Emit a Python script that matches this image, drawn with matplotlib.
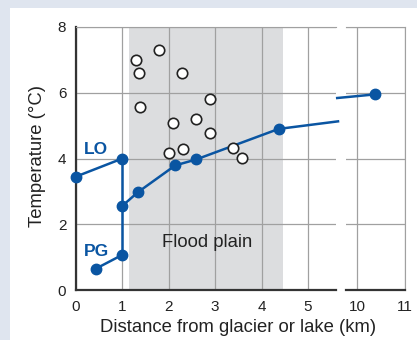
import matplotlib.pyplot as plt
from matplotlib.patches import Rectangle

plt.rcParams["font.family"] = ["Liberation Sans", "DejaVu Sans"]

blue = "#0a55a2"

# lake outlet (LO) and proglacial stream (PG)
lo_x = [0.0, 1.0]
lo_y = [3.45, 4.0]
pg_x = [0.43, 1.0]
pg_y = [0.65, 1.07]
# main channel downstream of confluence
main_x = [1.0, 1.33, 2.14, 2.59, 4.37, 5.65]
main_y = [2.56, 2.97, 3.79, 3.97, 4.90, 5.13]
far_x = [9.57, 10.37]
far_y = [5.84, 5.95]
# flood plain ponds / side channels
pond_x = [1.79, 1.29, 1.35, 2.29, 2.89, 1.39, 2.10, 2.59, 2.89, 2.00, 2.30, 3.38, 3.58]
pond_y = [7.29, 6.99, 6.59, 6.59, 5.80, 5.57, 5.09, 5.20, 4.78, 4.17, 4.30, 4.31, 4.01]
flood_plain = (1.15, 4.47)

W, H = 417, 340
fig = plt.figure(figsize=(W / 100, H / 100), dpi=100)
fig.patch.set_facecolor("#dfe5ef")
fig.add_artist(Rectangle((10 / W, 0), 1, (H - 8) / H, transform=fig.transFigure,
                         facecolor="white", edgecolor="none", zorder=0))

bottom, height = 50 / H, 263 / H
ax1 = fig.add_axes([76 / W, bottom, (335.7 - 76) / W, height])
ax2 = fig.add_axes([345.7 / W, bottom, (404.7 - 345.7) / W, height])
ax1.set_xlim(0, 5.6)
ax2.set_xlim(9.75, 11)

grid = "#a0a0a0"
for ax in (ax1, ax2):
    ax.set_ylim(0, 8)
    ax.set_yticks([0, 2, 4, 6, 8])
    ax.grid(True, color=grid, lw=0.9)
    ax.set_axisbelow(True)
    ax.tick_params(length=0, labelsize=11, colors="#222222", pad=7)
    ax.spines["top"].set_color(grid)
    ax.spines["right"].set_color(grid)
    ax.spines["bottom"].set_color("#333333")
    ax.spines["bottom"].set_linewidth(1.6)

ax1.set_xticks([0, 1, 2, 3, 4, 5])
ax1.spines["right"].set_visible(False)
ax1.spines["left"].set_color("#333333")
ax1.spines["left"].set_linewidth(1.6)
ax2.set_xticks([10, 11])
ax2.spines["left"].set_visible(False)
ax2.tick_params(axis="y", labelleft=False)

ax1.axvspan(*flood_plain, color="#dcdddf", zorder=0.5, lw=0)
ax1.text(sum(flood_plain) / 2 + 0.02, 1.43, "Flood plain", ha="center", va="center",
         fontsize=13.3, color="#222222")

lk = dict(color=blue, lw=1.8, marker="o", ms=7.5, clip_on=False, zorder=4)
ax1.plot([1, 1], [lo_y[-1], pg_y[-1]], color=blue, lw=1.8, zorder=3)
ax1.plot(lo_x, lo_y, **lk)
ax1.plot(pg_x, pg_y, **lk)
ax1.plot(main_x, main_y, markevery=list(range(len(main_x) - 1)), **lk)
ax2.plot(far_x, far_y, markevery=[1], **lk)

ax1.plot(pond_x, pond_y, "o", ms=7.5, mfc="white", mec="#222222", mew=1.2, zorder=5)

ax1.text(0.44, 4.26, "LO", color=blue, fontsize=12.5, fontweight="bold",
         ha="center", va="center")
ax1.text(0.44, 1.16, "PG", color=blue, fontsize=12.5, fontweight="bold",
         ha="center", va="center")

fig.text(37 / W, 1 - 156 / H, "Temperature (°C)", rotation=90,
         ha="center", va="center", fontsize=13.3, color="#222222")
fig.text((100 + 377) / 2 / W, 1 - 327 / H, "Distance from glacier or lake (km)",
         ha="center", va="center", fontsize=13.3, color="#222222")

fig.savefig("out.png", dpi=100, facecolor=fig.get_facecolor())
